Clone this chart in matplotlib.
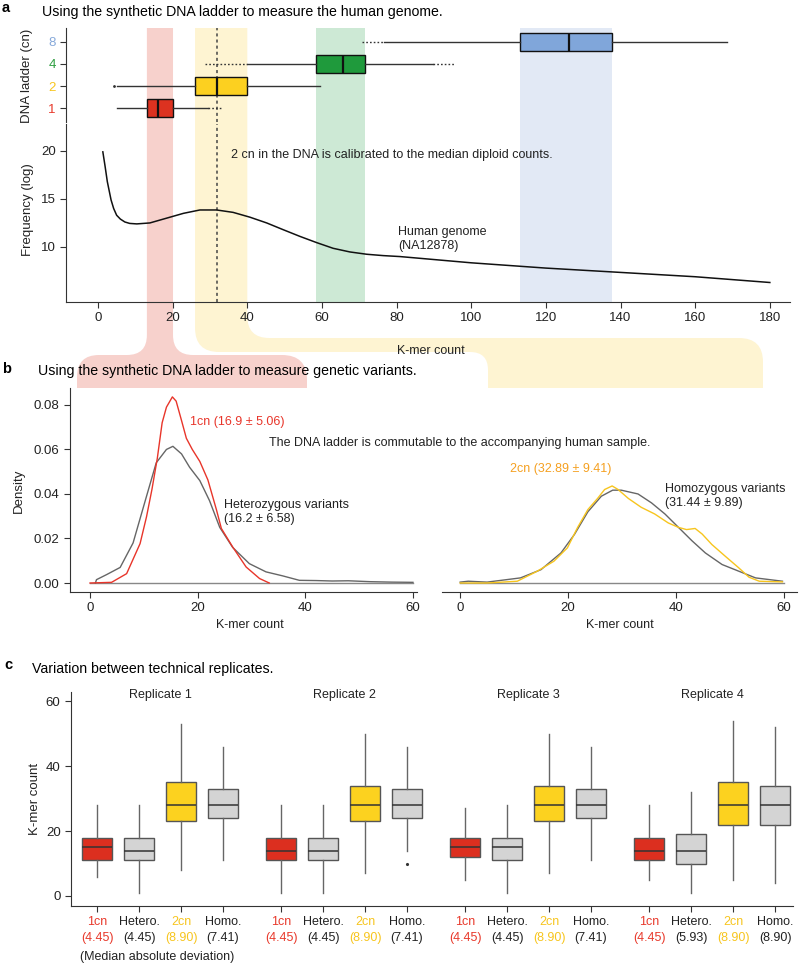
import numpy as np
import matplotlib.pyplot as plt
from matplotlib.path import Path
from matplotlib.patches import PathPatch, Rectangle

plt.rcParams['font.family'] = ['Liberation Sans', 'DejaVu Sans']
plt.rcParams['axes.edgecolor'] = '#333333'
plt.rcParams['xtick.color'] = '#333333'
plt.rcParams['ytick.color'] = '#333333'
plt.rcParams['xtick.labelcolor'] = '#222222'
plt.rcParams['ytick.labelcolor'] = '#222222'

W, H = 799, 964

# ---- panel a: DNA ladder boxes (K-mer count) ----
ladder_cn = ['1', '2', '4', '8']
ladder_box = ['#dc3220', '#fcd020', '#1f9a3c', '#80a6da']
ladder_tick = ['#e8392b', '#f7c51e', '#2f9e41', '#86a9da']
ladder_band = ['#f7d1cc', '#fef4d2', '#cde9d5', '#e2e9f5']
ladder_q1 = [13.1, 26.0, 58.4, 113.1]
ladder_med = [16.1, 32.0, 65.7, 126.1]
ladder_q3 = [20.1, 40.0, 71.6, 137.8]
ladder_lo = [5.1, 5.1, 40.0, 76.7]
ladder_hi = [29.5, 59.5, 89.8, 168.6]
ladder_fliers = [[], [4.2], [], []]
ladder_ext_lo = [np.nan, np.nan, 28.7, 70.8]   # dotted whisker extensions
ladder_ext_hi = [33.0, np.nan, 95.4, np.nan]

# human genome k-mer spectrum
genome_count = [1.3, 1.9, 2.5, 3.5, 4.2, 5.0, 6.0, 7.2, 8.5, 10.4, 13.9, 18.4, 22.9,
                27.3, 31.8, 36.2, 40.7, 45.2, 49.6, 54.1, 58.6, 63.0, 67.5, 72.0,
                76.4, 80.9, 100, 120, 140, 160, 180]
genome_freq = [19.9, 18.4, 16.8, 14.9, 14.0, 13.3, 12.9, 12.6, 12.45, 12.4, 12.5, 13.0, 13.5,
               13.85, 13.85, 13.6, 13.1, 12.5, 11.8, 11.1, 10.45, 9.86, 9.48, 9.24,
               9.1, 9.0, 8.35, 7.8, 7.35, 6.9, 6.3]

# ---- panel b: densities ----
cn1_x = [0, 4.0, 6.8, 9.3, 10.5, 11.5, 12.5, 13.4, 14.2, 15.3, 16.0, 17.0, 17.9, 19.0,
         20.4, 21.9, 23.5, 24.4, 26.5, 29.0, 31.5, 33.3]
cn1_y = [0, 0.0003, 0.0042, 0.0177, 0.0298, 0.042, 0.056, 0.072, 0.079, 0.0836, 0.0817,
         0.073, 0.065, 0.060, 0.0546, 0.0463, 0.0328, 0.0245, 0.0162, 0.0072, 0.002, 0.0]
het_x = [1.0, 1.2, 3.1, 5.6, 8.0, 10.5, 12.3, 14.2, 15.4, 17.0, 18.5, 20.4, 22.2, 24.1,
         26.5, 29.6, 32.7, 35.8, 38.9, 42, 45, 48, 52, 56, 60]
het_y = [0.0, 0.0015, 0.0038, 0.007, 0.018, 0.039, 0.054, 0.060, 0.0614, 0.058, 0.052,
         0.046, 0.037, 0.025, 0.016, 0.0087, 0.005, 0.0032, 0.0012, 0.0011, 0.0009,
         0.0010, 0.0006, 0.0004, 0.0003]
cn2_x = [0, 5, 10.6, 14.3, 17.4, 19.9, 21.8, 23.7, 25.5, 26.8, 28.2, 29.3, 31.2, 33.6,
         36.1, 38.6, 40.5, 42.0, 43.6, 44.9, 46.7, 49.2, 51.7, 53.6, 55.5, 59.8]
cn2_y = [0, 0.0, 0.0008, 0.0053, 0.0098, 0.0158, 0.025, 0.033, 0.038, 0.042, 0.0436,
         0.042, 0.038, 0.034, 0.031, 0.027, 0.025, 0.024, 0.0245, 0.022, 0.0173, 0.012,
         0.0068, 0.0026, 0.0008, 0.0005]
hom_x = [0, 1.5, 5, 11.2, 15.0, 18.7, 21.2, 23.7, 26.2, 28.3, 29.9, 33.0, 35.5, 38.0,
         40.5, 43.0, 45.5, 48.6, 51.7, 54.8, 59.8]
hom_y = [0.0004, 0.0008, 0.0004, 0.0023, 0.006, 0.0135, 0.0218, 0.032, 0.039, 0.0417,
         0.0417, 0.040, 0.036, 0.031, 0.025, 0.019, 0.0135, 0.0083, 0.0053, 0.0023, 0.0008]

# ---- panel c: replicates ----
categories = ['1cn', 'Hetero.', '2cn', 'Homo.']
cat_fill = ['#dc2f1f', '#d4d4d4', '#fcd21f', '#d4d4d4']
cat_text = ['#e8392b', '#222222', '#f7c51e', '#222222']
replicates = ['Replicate 1', 'Replicate 2', 'Replicate 3', 'Replicate 4']
c_med = [[15, 14, 28, 28], [14, 14, 28, 28], [15, 15, 28, 28], [14, 14, 28, 28]]
c_q1 = [[11, 11, 23, 24], [11, 11, 23, 24], [12, 11, 23, 24], [11, 10, 22, 22]]
c_q3 = [[18, 18, 35, 33], [18, 18, 34, 33], [18, 18, 34, 33], [18, 19, 35, 34]]
c_lo = [[6, 1, 8, 11], [1, 1, 7, 14], [5, 1, 7, 11], [5, 1, 5, 4]]
c_hi = [[28, 28, 53, 46], [28, 28, 50, 46], [27, 28, 50, 46], [28, 32, 54, 52]]
c_fliers = [[[], [], [], []], [[], [], [], [10]], [[], [], [], []], [[], [], [], []]]
c_mad = [['4.45', '4.45', '8.90', '7.41'], ['4.45', '4.45', '8.90', '7.41'],
         ['4.45', '4.45', '8.90', '7.41'], ['4.45', '5.93', '8.90', '8.90']]


def rect(l, t, r, b):
    return [l / W, 1 - b / H, (r - l) / W, (b - t) / H]


def ftext(x, y, s, **kw):
    kw.setdefault('va', 'center')
    kw.setdefault('fontsize', 9)
    fig.text(x / W, 1 - y / H, s, **kw)


def bxp(ax, stats, pos, widths, horizontal=False, **kw):
    try:
        return ax.bxp(stats, positions=pos, widths=widths,
                      orientation='horizontal' if horizontal else 'vertical', **kw)
    except TypeError:
        return ax.bxp(stats, positions=pos, widths=widths, vert=not horizontal, **kw)


def rounded(pts, radii):
    verts, codes = [], []
    n = len(pts)
    for i, (p, r) in enumerate(zip(pts, radii)):
        p = np.array(p, float)
        if r == 0:
            verts.append(p)
            codes.append(Path.MOVETO if i == 0 else Path.LINETO)
            continue
        a = np.array(pts[i - 1], float)
        b = np.array(pts[(i + 1) % n], float)
        pin = p + r * (a - p) / np.linalg.norm(a - p)
        pout = p + r * (b - p) / np.linalg.norm(b - p)
        verts += [pin, p, pout]
        codes += [Path.LINETO, Path.CURVE3, Path.CURVE3]
    verts.append(verts[0])
    codes.append(Path.CLOSEPOLY)
    return Path(verts, codes)


fig = plt.figure(figsize=(W / 100, H / 100), dpi=100)
ov = fig.add_axes([0, 0, 1, 1], zorder=-1)
ov.set_xlim(0, W)
ov.set_ylim(H, 0)
ov.axis('off')

# ================= panel a =================
xl_a = (-8.57, 185.4)
ax_l = fig.add_axes(rect(66, 28, 790, 122), facecolor='none')
ax_f = fig.add_axes(rect(66, 124, 790, 302), facecolor='none')

stats = [dict(med=m, q1=a, q3=b, whislo=lo, whishi=hi, fliers=fl)
         for m, a, b, lo, hi, fl in zip(ladder_med, ladder_q1, ladder_q3,
                                         ladder_lo, ladder_hi, ladder_fliers)]
pos_a = [1, 2, 3, 4]
bp = bxp(ax_l, stats, pos_a, 0.8, horizontal=True, patch_artist=True, showcaps=False,
         boxprops=dict(edgecolor='#111111', linewidth=1),
         medianprops=dict(color='#111111', linewidth=1.6),
         whiskerprops=dict(color='#333333', linewidth=1),
         flierprops=dict(marker='.', markersize=2, markerfacecolor='#333333',
                         markeredgecolor='#333333'))
for patch, col in zip(bp['boxes'], ladder_box):
    patch.set_facecolor(col)
for y, lo, q_lo, hi, q_hi in zip(pos_a, ladder_ext_lo, ladder_lo, ladder_ext_hi, ladder_hi):
    if not np.isnan(lo):
        ax_l.plot([lo, q_lo], [y, y], color='#333333', lw=1, ls=(0, (1.2, 1.5)))
    if not np.isnan(hi):
        ax_l.plot([q_hi, hi], [y, y], color='#333333', lw=1, ls=(0, (1.2, 1.5)))
ax_l.set_xlim(*xl_a)
ax_l.set_ylim(0.364, 4.636)
ax_l.set_yticks(pos_a)
ax_l.set_yticklabels(ladder_cn, fontsize=9.5)
for lab, col in zip(ax_l.get_yticklabels(), ladder_tick):
    lab.set_color(col)
ax_l.set_xticks([])
for s in ['top', 'right', 'bottom']:
    ax_l.spines[s].set_visible(False)
ax_l.tick_params(axis='y', length=4)
ax_l.axvline(ladder_med[1], color='#444444', lw=1.1, ls=(0, (2, 2)), zorder=0)

ax_f.plot(genome_count, genome_freq, color='#111111', lw=1.1)
ax_f.axvline(ladder_med[1], color='#444444', lw=1.1, ls=(0, (2, 2)), zorder=0)
ax_f.set_xlim(*xl_a)
ax_f.set_ylim(4.27, 22.8)
ax_f.set_xticks(np.arange(0, 181, 20))
ax_f.set_yticks([10, 15, 20])
ax_f.tick_params(labelsize=9.5, length=4)
for s in ['top', 'right']:
    ax_f.spines[s].set_visible(False)
ax_f.text(35.6, 19.6, '2 cn in the DNA is calibrated to the median diploid counts.',
          fontsize=9, va='center', color='#222222')
ax_f.text(80.4, 10.8, 'Human genome\n(NA12878)', fontsize=9, va='center',
          color='#222222', linespacing=1.25)

# background bands and the connectors down to panel b
fig.canvas.draw()
def px(v):
    return ax_f.transData.transform((v, 0))[0]

for i in [2, 3]:
    l, r = px(ladder_q1[i]), px(ladder_q3[i])
    ov.add_patch(Rectangle((l, 28), r - l, 302 - 28, color=ladder_band[i], lw=0))
l, r = px(ladder_q1[0]), px(ladder_q3[0])
red_pts = [(l, 28), (l, 355), (77, 355), (77, 388), (307, 388), (307, 355), (r, 355), (r, 28)]
ov.add_patch(PathPatch(rounded(red_pts, [0, 20, 22, 0, 0, 25, 20, 0]),
                       facecolor=ladder_band[0], lw=0))
l, r = px(ladder_q1[1]), px(ladder_q3[1])
yel_pts = [(l, 28), (l, 352), (488, 352), (488, 388), (763, 388), (763, 338), (r, 338), (r, 28)]
ov.add_patch(PathPatch(rounded(yel_pts, [0, 24, 18, 0, 0, 24, 22, 0]),
                       facecolor=ladder_band[1], lw=0))

# ================= panel b =================
ax_b1 = fig.add_axes(rect(70, 388, 417, 592), facecolor='none')
ax_b2 = fig.add_axes(rect(442, 388, 797, 592), facecolor='none')
for ax, xl in [(ax_b1, (-3.72, 60.75)), (ax_b2, (-3.37, 62.5))]:
    ax.axhline(0, xmin=(0 - xl[0]) / (xl[1] - xl[0]), xmax=(60 - xl[0]) / (xl[1] - xl[0]),
               color='#888888', lw=1)
    ax.set_xlim(*xl)
    ax.set_ylim(-0.00404, 0.0876)
    ax.set_xticks([0, 20, 40, 60])
    ax.tick_params(labelsize=9.5, length=4)
    for s in ['top', 'right']:
        ax.spines[s].set_visible(False)
ax_b1.plot(het_x, het_y, color='#666666', lw=1)
ax_b1.plot(cn1_x, cn1_y, color='#e8352a', lw=1)
ax_b1.set_yticks([0, 0.02, 0.04, 0.06, 0.08])
ax_b1.set_yticklabels(['0.00', '0.02', '0.04', '0.06', '0.08'])
ax_b2.plot(hom_x, hom_y, color='#666666', lw=1)
ax_b2.plot(cn2_x, cn2_y, color='#f7c51e', lw=1)
ax_b2.spines['left'].set_visible(False)
ax_b2.set_yticks([])

ftext(190, 422, '1cn (16.9 \u00b1 5.06)', color='#e8352a')
ftext(269, 443, 'The DNA ladder is commutable to the accompanying human sample.', color='#222222')
ftext(224, 512, 'Heterozygous variants\n(16.2 \u00b1 6.58)', color='#222222', linespacing=1.25)
ftext(510, 469, '2cn (32.89 \u00b1 9.41)', color='#f5a020')
ftext(665, 496, 'Homozygous variants\n(31.44 \u00b1 9.89)', color='#222222', linespacing=1.25)
ftext(19, 491, 'Density', rotation=90, ha='center', fontsize=9.5, color='#222222')
ftext(250, 625, 'K-mer count', ha='center', color='#222222')
ftext(620, 625, 'K-mer count', ha='center', color='#222222')

# ================= panel c =================
ax_c = fig.add_axes(rect(71, 692, 793, 906), facecolor='none')
group_step = 184 / 42
pos_c, stats_c, fills, labels, lab_cols = [], [], [], [], []
for g in range(len(replicates)):
    for i in range(len(categories)):
        pos_c.append(g * group_step + i)
        stats_c.append(dict(med=c_med[g][i], q1=c_q1[g][i], q3=c_q3[g][i],
                            whislo=c_lo[g][i], whishi=c_hi[g][i], fliers=c_fliers[g][i]))
        fills.append(cat_fill[i])
        labels.append(categories[i] + '\n(' + c_mad[g][i] + ')')
        lab_cols.append(cat_text[i])
bp = bxp(ax_c, stats_c, pos_c, 0.72, patch_artist=True, showcaps=False,
         boxprops=dict(edgecolor='#555555', linewidth=1),
         medianprops=dict(color='#333333', linewidth=1.1),
         whiskerprops=dict(color='#666666', linewidth=1),
         flierprops=dict(marker='.', markersize=2.5, markerfacecolor='#333333',
                         markeredgecolor='#333333'))
for patch, col in zip(bp['boxes'], fills):
    patch.set_facecolor(col)
ax_c.set_xlim(-0.619, 16.57)
ax_c.set_ylim(-3.08, 62.8)
ax_c.set_yticks([0, 20, 40, 60])
ax_c.set_xticks(pos_c)
ax_c.set_xticklabels(labels, linespacing=1.35)
for lab, col in zip(ax_c.get_xticklabels(), lab_cols):
    lab.set_color(col)
ax_c.tick_params(labelsize=9, length=4)
ax_c.tick_params(axis='y', labelsize=9.5)
for s in ['top', 'right']:
    ax_c.spines[s].set_visible(False)
for g, name in enumerate(replicates):
    ax_c.text(g * group_step + 1.5, 61.8, name, ha='center', va='center', fontsize=9,
              color='#222222', clip_on=False)
ftext(35, 799, 'K-mer count', rotation=90, ha='center', fontsize=9.5, color='#222222')
ftext(157, 957, '(Median absolute deviation)', ha='center', color='#222222')

# ================= panel titles =================
ftext(2, 8, 'a', fontweight='bold', fontsize=10.5)
ftext(42, 12, 'Using the synthetic DNA ladder to measure the human genome.', fontsize=10.2)
ftext(27, 76, 'DNA ladder (cn)', rotation=90, ha='center', fontsize=9.5, color='#222222')
ftext(28, 210, 'Frequency (log)', rotation=90, ha='center', fontsize=9.5, color='#222222')
ftext(431, 351, 'K-mer count', ha='center', color='#222222')
ftext(2, 369, 'b', fontweight='bold', fontsize=10.5)
ftext(38, 371, 'Using the synthetic DNA ladder to measure genetic variants.', fontsize=10.2)
ftext(4, 665, 'c', fontweight='bold', fontsize=10.5)
ftext(32, 669, 'Variation between technical replicates.', fontsize=10.2)

fig.savefig('out.png', dpi=100)
